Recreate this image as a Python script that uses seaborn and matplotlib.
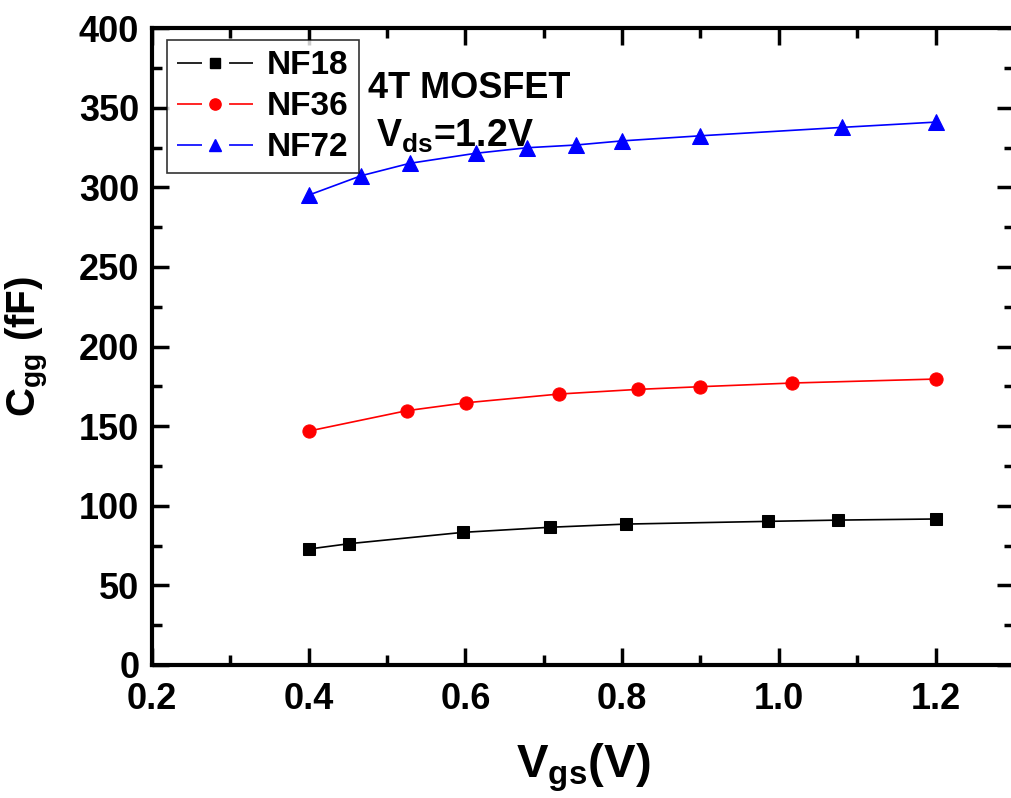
import matplotlib
matplotlib.use("Agg")
import matplotlib.pyplot as plt
from matplotlib.ticker import MultipleLocator
from matplotlib.lines import Line2D
import seaborn as sns
import pandas as pd

# Gate capacitance vs gate bias for three finger counts
vgs_nf18 = [0.400, 0.452, 0.597, 0.708, 0.805, 0.986, 1.076, 1.200]
cgg_nf18 = [72.8, 76.2, 83.3, 86.5, 88.5, 90.2, 91.0, 91.7]

vgs_nf36 = [0.400, 0.525, 0.601, 0.720, 0.820, 0.900, 1.017, 1.200]
cgg_nf36 = [146.9, 159.7, 164.7, 170.2, 173.1, 174.8, 177.1, 179.6]

vgs_nf72 = [0.400, 0.467, 0.529, 0.613, 0.679, 0.741, 0.800, 0.900, 1.081, 1.200]
cgg_nf72 = [295.1, 307.3, 315.1, 321.4, 324.9, 326.6, 329.2, 332.4, 337.7, 341.0]

series_names = ["NF18", "NF36", "NF72"]
x_tick_labels = ["0.2", "0.4", "0.6", "0.8", "1.0", "1.2"]

frames = []
for name, xs, ys in zip(series_names,
                        [vgs_nf18, vgs_nf36, vgs_nf72],
                        [cgg_nf18, cgg_nf36, cgg_nf72]):
    frames.append(pd.DataFrame({"Vgs": xs, "Cgg": ys, "series": name}))
df = pd.concat(frames, ignore_index=True)

sns.set_theme(style="ticks")
plt.rcParams["font.family"] = ["Liberation Sans", "DejaVu Sans"]
plt.rcParams["font.weight"] = "bold"
plt.rcParams["text.color"] = "black"
plt.rcParams["axes.labelcolor"] = "black"
plt.rcParams["xtick.color"] = "black"
plt.rcParams["ytick.color"] = "black"
plt.rcParams["axes.edgecolor"] = "black"
plt.rcParams["lines.scale_dashes"] = False
plt.rcParams["mathtext.fontset"] = "custom"
plt.rcParams["mathtext.rm"] = "Liberation Sans:bold"
plt.rcParams["mathtext.bf"] = "Liberation Sans:bold"

fig = plt.figure(figsize=(10.12, 7.98), dpi=100)
ax = fig.add_axes([0.150, 0.1667, 0.852, 0.798])

palette = {"NF18": "black", "NF36": "red", "NF72": "blue"}
markers = {"NF18": "s", "NF36": "o", "NF72": "^"}
sizes = {"NF18": 8.5, "NF36": 9.5, "NF72": 11}

for name in series_names:
    sub = df[df["series"] == name]
    sns.lineplot(data=sub, x="Vgs", y="Cgg", ax=ax, color=palette[name],
                 marker=markers[name], markersize=sizes[name],
                 markeredgecolor=palette[name], linewidth=1.2,
                 sort=False, estimator=None, legend=False)

ax.set_xlim(0.2, 1.3)
ax.set_ylim(0, 400)
ax.xaxis.set_major_locator(MultipleLocator(0.2))
ax.xaxis.set_minor_locator(MultipleLocator(0.1))
ax.yaxis.set_major_locator(MultipleLocator(50))
ax.yaxis.set_minor_locator(MultipleLocator(25))
ax.set_xticks([0.2, 0.4, 0.6, 0.8, 1.0, 1.2])
ax.set_xticklabels(x_tick_labels)

ax.tick_params(which="both", direction="in", top=True, right=True, width=2.5)
ax.tick_params(which="major", length=12, labelsize=26)
ax.tick_params(axis="x", which="major", pad=12)
ax.tick_params(axis="y", which="major", pad=9)
ax.tick_params(which="minor", length=7)
for lab in ax.get_xticklabels() + ax.get_yticklabels():
    lab.set_fontweight("bold")
for sp in ax.spines.values():
    sp.set_linewidth(3)
    sp.set_visible(True)

ax.set_xlabel(r"V$_{\mathregular{gs}}$(V)", fontsize=34, fontweight="bold", labelpad=18)
ax.set_ylabel(r"C$_{\mathregular{gg}}$ (fF)", fontsize=29, fontweight="bold", labelpad=20)

ax.text(0.368, 0.906, "4T MOSFET", transform=ax.transAxes, ha="center",
        va="center", fontsize=26, fontweight="bold")
ax.text(0.352, 0.83, r"V$_{\mathregular{ds}}$=1.2V", transform=ax.transAxes,
        ha="center", va="center", fontsize=27, fontweight="bold")

# Legend entries drawn as segment - marker - segment
handles = [Line2D([], [], color=palette[n], marker=markers[n],
                  markersize=sizes[n] * 0.85, markeredgecolor=palette[n],
                  linewidth=1.2, linestyle=(0, (18, 19.5)))
           for n in series_names]
leg = ax.legend(handles, series_names, loc="upper left",
                bbox_to_anchor=(0.0174, 0.981), fontsize=24, numpoints=1,
                frameon=True, fancybox=False, handlelength=2.3,
                borderpad=0.3, labelspacing=0.3, handletextpad=0.4,
                borderaxespad=0)
leg.get_frame().set_edgecolor("black")
leg.get_frame().set_linewidth(1.2)
for t in leg.get_texts():
    t.set_fontweight("bold")

fig.savefig("out.png", dpi=100)
